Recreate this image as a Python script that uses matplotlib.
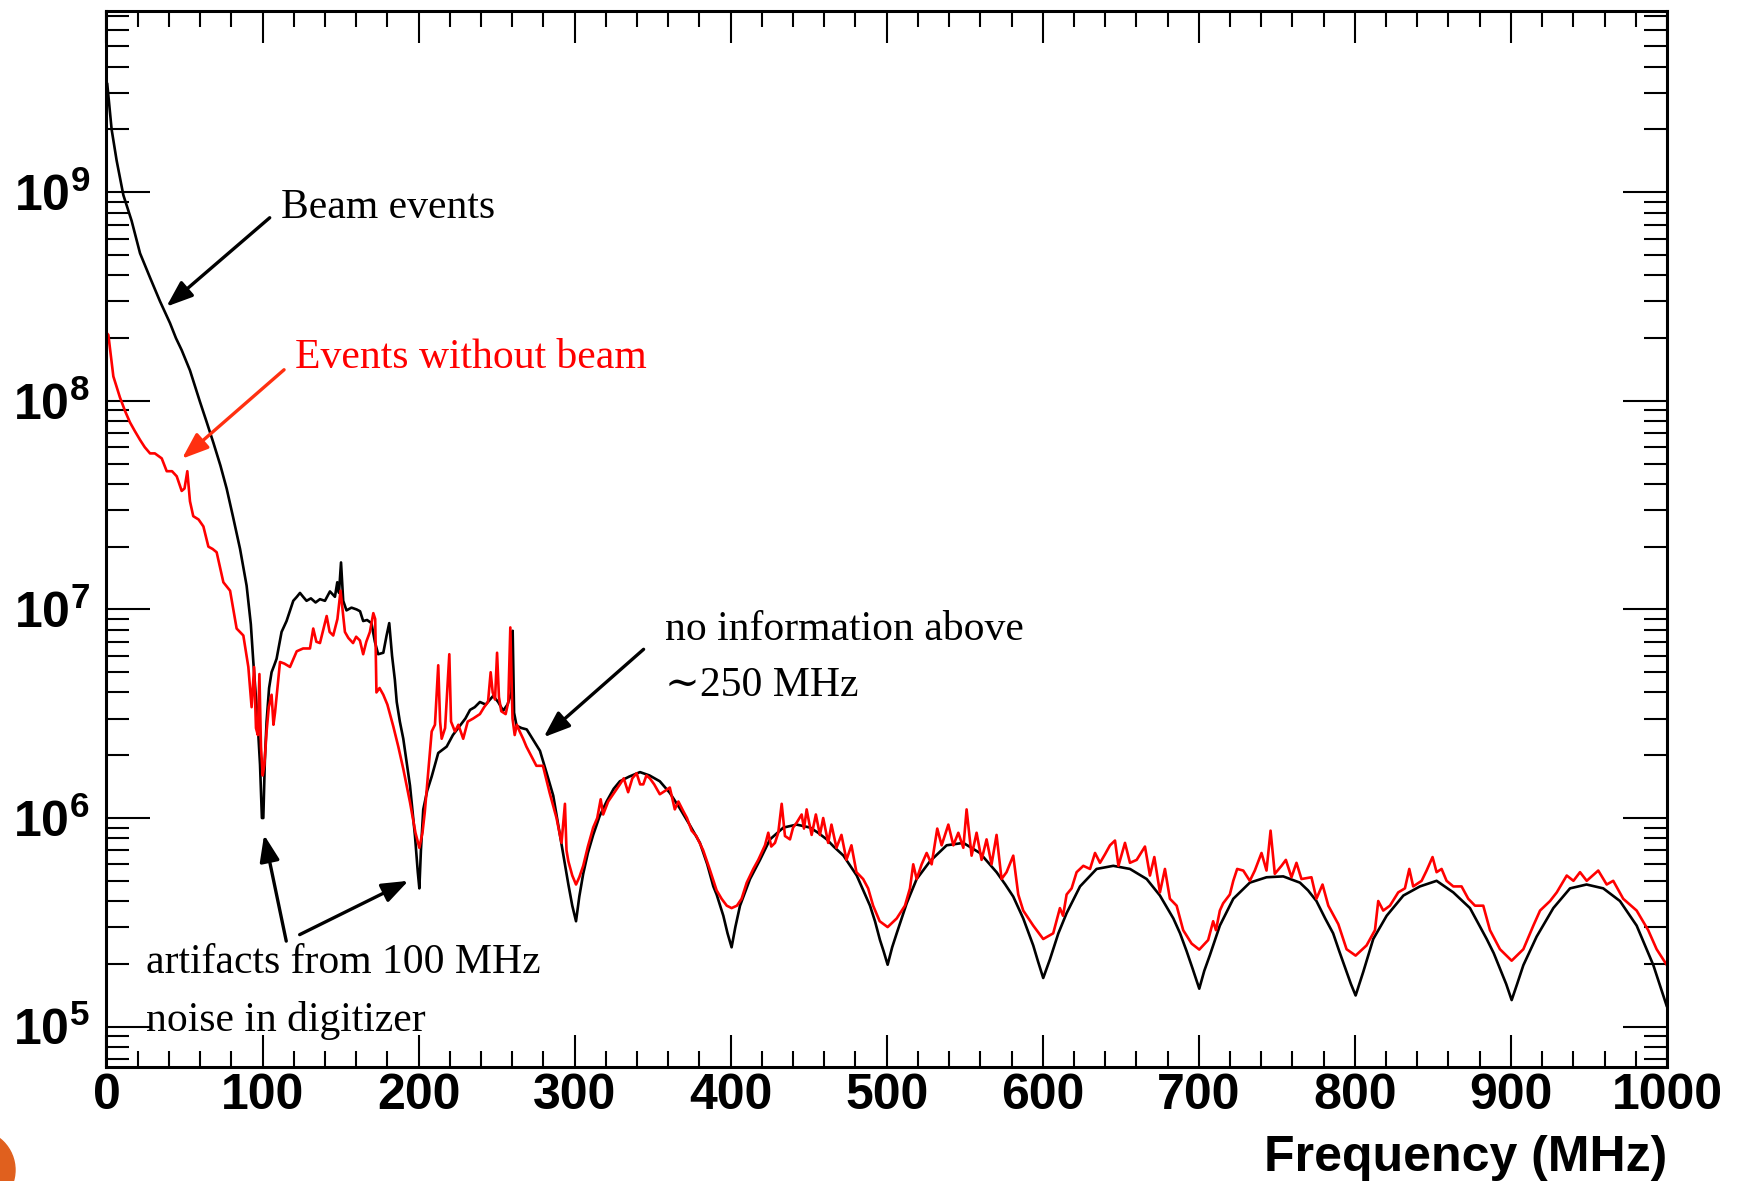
import numpy as np
import matplotlib.pyplot as plt
from matplotlib.patches import Ellipse
from matplotlib.ticker import MultipleLocator, LogLocator, NullFormatter, FuncFormatter

plt.rcParams["font.family"] = ["Liberation Sans", "DejaVu Sans"]
plt.rcParams["font.weight"] = "bold"
plt.rcParams["mathtext.fontset"] = "custom"
plt.rcParams["mathtext.rm"] = "Liberation Sans:bold"
plt.rcParams["mathtext.bf"] = "Liberation Sans:bold"
plt.rcParams["mathtext.it"] = "Liberation Sans:bold"

# (frequency MHz, counts)
beam_events = [
    (0.5, 3.3e9), (3.3, 2.0e9), (6.5, 1.42e9), (10.8, 9.7e8), (16.1, 7.3e8),
    (21.5, 5.1e8), (27.9, 3.9e8), (34.3, 3.0e8), (40.7, 2.36e8), (44.5, 2.0e8),
    (48.2, 1.75e8), (53.5, 1.4e8), (59.9, 9.9e7), (64.0, 8.0e7), (68.5, 6.3e7),
    (73.0, 4.9e7), (77.0, 3.8e7), (81.0, 2.8e7), (85.6, 1.95e7), (89.8, 1.3e7),
    (92.5, 8.5e6), (94.1, 5.6e6), (96.5, 3.2e6), (98.4, 1.8e6), (99.6, 1.0e6),
    (100.5, 1.0e6), (101.5, 1.9e6), (102.6, 2.9e6), (104.2, 4.2e6), (105.8, 5.0e6),
    (107.5, 5.4e6), (109.0, 5.8e6), (112.2, 7.8e6), (115.4, 8.8e6), (117.5, 9.8e6),
    (119.7, 1.1e7), (122.0, 1.15e7), (124.0, 1.2e7), (126.0, 1.15e7), (128.2, 1.1e7),
    (131.0, 1.13e7), (134.0, 1.08e7), (136.8, 1.12e7), (140.0, 1.1e7), (143.2, 1.22e7),
    (146.4, 1.15e7), (147.9, 1.35e7), (149.0, 1.2e7), (150.3, 1.68e7), (151.7, 1.1e7),
    (153.8, 9.9e6), (157.0, 1.02e7), (160.3, 1.0e7), (162.5, 9.8e6), (164.5, 8.8e6),
    (167.0, 8.9e6), (169.8, 8.6e6), (172.0, 7.0e6), (174.1, 6.1e6), (177.4, 6.2e6),
    (179.5, 7.5e6), (181.2, 8.6e6), (183.0, 6.0e6), (184.8, 4.6e6), (186.0, 3.6e6),
    (188.0, 2.9e6), (190.2, 2.4e6), (194.5, 1.43e6), (197.7, 8.2e5), (199.5, 5.5e5),
    (200.5, 4.6e5), (201.5, 7.0e5), (203.0, 1.1e6), (205.5, 1.35e6), (208.4, 1.58e6),
    (212.6, 2.05e6), (218.0, 2.2e6), (222.0, 2.5e6), (226.5, 2.77e6), (230.0, 3.0e6),
    (233.0, 3.3e6), (236.0, 3.4e6), (239.3, 3.6e6), (243.0, 3.5e6), (247.8, 3.85e6),
    (251.0, 3.6e6), (254.2, 3.27e6), (257.0, 3.5e6), (259.5, 4.0e6), (260.3, 7.9e6),
    (261.2, 3.2e6), (262.8, 2.77e6), (266.0, 2.7e6), (269.3, 2.66e6), (273.0, 2.4e6),
    (277.8, 2.1e6), (282.0, 1.65e6), (286.3, 1.28e6), (290.6, 8.3e5), (293.5, 6.2e5),
    (296.0, 4.8e5), (298.5, 3.8e5), (300.9, 3.2e5), (303.0, 4.2e5), (305.5, 5.4e5),
    (308.5, 6.8e5), (311.9, 8.3e5), (316.0, 1.02e6), (320.5, 1.2e6), (325.0, 1.38e6),
    (329.0, 1.5e6), (335.0, 1.58e6), (341.9, 1.66e6), (348.0, 1.6e6), (354.6, 1.5e6),
    (361.0, 1.32e6), (367.5, 1.11e6), (374.0, 9.2e5), (380.3, 7.6e5), (385.0, 6.0e5),
    (388.9, 4.7e5), (391.0, 4.3e5), (395.3, 3.4e5), (398.0, 2.8e5), (400.6, 2.4e5),
    (403.0, 3.0e5), (406.0, 3.8e5), (412.4, 5.1e5), (418.8, 6.3e5), (425.2, 7.9e5),
    (433.8, 9.0e5), (442.3, 9.3e5), (450.9, 9.0e5), (456.0, 8.5e5), (461.6, 7.9e5),
    (466.0, 7.3e5), (472.3, 6.6e5), (476.0, 6.0e5), (480.8, 5.3e5), (485.0, 4.5e5),
    (489.3, 3.8e5), (492.5, 3.2e5), (495.7, 2.6e5), (498.0, 2.3e5), (500.6, 1.98e5),
    (503.5, 2.4e5), (506.4, 2.8e5), (512.8, 3.9e5), (519.2, 5.1e5), (527.7, 6.2e5),
    (538.4, 7.4e5), (549.1, 7.6e5), (559.7, 6.8e5), (570.4, 5.5e5), (576.0, 4.8e5),
    (581.1, 4.2e5), (587.5, 3.3e5), (593.9, 2.45e5), (597.0, 2.05e5), (600.3, 1.71e5),
    (604.6, 2.1e5), (610.0, 2.8e5), (615.3, 3.5e5), (623.9, 4.7e5), (634.5, 5.7e5),
    (645.2, 5.9e5), (655.9, 5.7e5), (666.6, 5.1e5), (675.1, 4.25e5), (683.7, 3.3e5),
    (688.0, 2.8e5), (692.2, 2.3e5), (696.0, 1.9e5), (700.3, 1.52e5), (703.5, 1.85e5),
    (707.1, 2.2e5), (713.5, 3.05e5), (722.1, 4.1e5), (732.7, 4.9e5), (743.4, 5.2e5),
    (754.1, 5.25e5), (764.8, 4.9e5), (770.0, 4.5e5), (775.4, 4.0e5), (781.0, 3.3e5),
    (786.1, 2.8e5), (790.0, 2.3e5), (794.7, 1.83e5), (797.5, 1.6e5), (800.5, 1.41e5),
    (805.4, 1.83e5), (811.8, 2.63e5), (820.4, 3.4e5), (831.1, 4.25e5), (841.7, 4.7e5),
    (852.4, 5.0e5), (863.1, 4.4e5), (873.8, 3.7e5), (884.5, 2.63e5), (889.0, 2.25e5),
    (893.0, 1.9e5), (897.0, 1.6e5), (900.5, 1.34e5), (904.0, 1.6e5), (908.0, 1.97e5),
    (916.5, 2.7e5), (927.2, 3.7e5), (937.9, 4.6e5), (948.5, 4.8e5), (959.2, 4.6e5),
    (969.9, 4.0e5), (980.6, 3.05e5), (991.3, 1.97e5), (999.8, 1.26e5),
]

no_beam_events = [
    (0.5, 2.1e8), (1.2, 2.07e8), (4.4, 1.31e8), (8.6, 1.04e8), (12.0, 8.9e7),
    (15.0, 7.9e7), (18.0, 7.2e7), (21.5, 6.5e7), (24.5, 6.0e7), (27.9, 5.6e7),
    (31.0, 5.6e7), (35.4, 5.3e7), (38.6, 4.6e7), (42.0, 4.6e7), (45.0, 4.35e7),
    (48.2, 3.7e7), (50.0, 3.8e7), (51.8, 4.6e7), (53.5, 3.3e7), (55.6, 2.8e7),
    (59.0, 2.7e7), (62.1, 2.5e7), (65.3, 2.0e7), (68.0, 1.95e7), (70.6, 1.88e7),
    (74.9, 1.35e7), (79.2, 1.23e7), (83.4, 8.1e6), (87.7, 7.5e6), (90.9, 5.3e6),
    (93.0, 3.4e6), (94.6, 5.3e6), (95.8, 2.7e6), (97.0, 2.5e6), (98.0, 4.9e6),
    (99.0, 2.2e6), (100.1, 1.6e6), (101.2, 1.8e6), (102.6, 2.6e6), (104.0, 3.4e6),
    (105.8, 3.9e6), (107.0, 2.8e6), (108.0, 3.2e6), (111.2, 5.6e6), (114.0, 5.5e6),
    (117.6, 5.3e6), (121.9, 6.3e6), (126.0, 6.5e6), (130.4, 6.5e6), (132.5, 8.1e6),
    (134.5, 7.0e6), (136.8, 6.9e6), (141.1, 9.3e6), (143.0, 7.8e6), (145.3, 7.5e6),
    (148.0, 9.0e6), (150.0, 1.23e7), (152.8, 7.8e6), (155.0, 7.3e6), (158.0, 6.9e6),
    (160.0, 7.4e6), (162.4, 7.1e6), (164.5, 6.1e6), (166.5, 7.0e6), (168.8, 7.8e6),
    (171.0, 9.6e6), (172.2, 9.0e6), (173.0, 4.0e6), (175.0, 4.2e6), (177.4, 3.9e6),
    (180.0, 3.5e6), (183.8, 2.75e6), (187.0, 2.2e6), (190.2, 1.72e6), (194.5, 1.19e6),
    (198.0, 8.5e5), (200.5, 7.2e5), (202.5, 8.5e5), (204.0, 1.07e6), (206.0, 1.6e6),
    (208.4, 2.6e6), (210.5, 2.8e6), (212.6, 5.4e6), (213.8, 2.9e6), (214.8, 2.4e6),
    (217.0, 2.7e6), (219.7, 6.1e6), (220.8, 2.9e6), (223.3, 2.6e6), (225.5, 2.8e6),
    (228.6, 2.4e6), (231.5, 2.9e6), (235.0, 3.0e6), (239.3, 3.15e6), (242.0, 3.4e6),
    (244.5, 3.6e6), (246.2, 5.0e6), (247.5, 4.0e6), (249.0, 3.7e6), (250.3, 6.2e6),
    (251.5, 3.8e6), (253.0, 3.25e6), (255.8, 3.15e6), (257.5, 3.6e6), (258.8, 8.2e6),
    (260.2, 3.0e6), (261.6, 2.5e6), (263.0, 2.8e6), (264.8, 2.6e6), (267.0, 2.4e6),
    (269.1, 2.2e6), (272.0, 2.0e6), (275.5, 1.78e6), (279.7, 1.78e6), (284.0, 1.32e6),
    (288.4, 1.0e6), (291.6, 7.6e5), (293.8, 1.17e6), (294.8, 7.0e5), (296.0, 6.2e5),
    (298.5, 5.3e5), (300.9, 4.8e5), (303.0, 5.2e5), (305.5, 5.9e5), (308.5, 7.3e5),
    (311.9, 9.0e5), (314.5, 1.0e6), (316.7, 1.23e6), (318.3, 1.04e6), (321.5, 1.2e6),
    (324.7, 1.3e6), (329.0, 1.45e6), (331.5, 1.55e6), (334.3, 1.33e6), (337.0, 1.55e6),
    (339.7, 1.64e6), (342.0, 1.45e6), (344.0, 1.45e6), (346.0, 1.6e6), (348.2, 1.55e6),
    (351.0, 1.45e6), (354.6, 1.3e6), (358.0, 1.35e6), (361.0, 1.4e6), (364.2, 1.1e6),
    (366.5, 1.2e6), (369.6, 1.08e6), (372.0, 1.0e6), (375.0, 8.7e5), (378.0, 8.2e5),
    (382.4, 7.0e5), (386.5, 5.7e5), (391.0, 4.5e5), (394.2, 4.1e5), (397.5, 3.8e5),
    (400.6, 3.7e5), (404.0, 3.8e5), (407.0, 4.1e5), (410.3, 4.9e5), (414.5, 5.7e5),
    (417.7, 6.3e5), (422.0, 7.4e5), (424.1, 8.5e5), (426.0, 7.3e5), (428.4, 7.6e5),
    (430.5, 8.5e5), (432.7, 1.17e6), (434.8, 8.2e5), (438.0, 7.9e5), (440.0, 9.0e5),
    (442.3, 9.5e5), (445.5, 1.04e6), (447.0, 8.9e5), (448.7, 1.1e6), (450.3, 9.5e5),
    (451.9, 8.3e5), (454.6, 1.04e6), (457.2, 8.3e5), (459.3, 1.0e6), (462.5, 7.6e5),
    (464.6, 9.3e5), (467.8, 7.2e5), (471.0, 8.3e5), (474.2, 6.3e5), (477.4, 7.4e5),
    (480.6, 5.5e5), (484.9, 5.1e5), (488.1, 4.6e5), (491.3, 3.8e5), (495.5, 3.2e5),
    (500.6, 3.0e5), (506.4, 3.3e5), (511.7, 3.8e5), (514.9, 4.6e5), (517.0, 6.0e5),
    (519.2, 5.1e5), (522.4, 6.0e5), (525.6, 6.8e5), (528.8, 6.0e5), (532.4, 8.9e5),
    (535.2, 7.4e5), (539.5, 9.3e5), (542.7, 7.4e5), (545.9, 8.5e5), (549.1, 7.2e5),
    (551.2, 1.1e6), (554.4, 6.6e5), (557.6, 8.5e5), (560.8, 6.3e5), (564.0, 7.9e5),
    (567.2, 6.0e5), (570.4, 8.3e5), (573.6, 5.1e5), (576.8, 5.5e5), (581.1, 6.6e5),
    (584.3, 4.3e5), (587.5, 3.6e5), (593.9, 3.05e5), (600.3, 2.63e5), (606.7, 2.8e5),
    (611.0, 3.7e5), (613.0, 3.4e5), (615.3, 4.3e5), (618.5, 4.6e5), (621.7, 5.5e5),
    (626.0, 5.9e5), (630.3, 5.7e5), (633.5, 6.8e5), (636.7, 6.1e5), (639.9, 6.7e5),
    (643.1, 7.4e5), (646.3, 7.8e5), (648.5, 5.9e5), (652.7, 7.6e5), (655.9, 6.1e5),
    (660.2, 6.3e5), (665.5, 7.3e5), (668.7, 5.3e5), (671.5, 6.5e5), (675.1, 4.4e5),
    (678.3, 5.7e5), (681.5, 4.1e5), (685.8, 3.8e5), (690.0, 2.9e5), (695.4, 2.5e5),
    (700.3, 2.34e5), (706.0, 2.6e5), (709.2, 3.2e5), (711.0, 2.9e5), (713.5, 3.6e5),
    (715.6, 3.9e5), (719.9, 4.3e5), (722.1, 5.0e5), (724.6, 5.7e5), (728.5, 5.6e5),
    (732.7, 5.0e5), (735.9, 5.6e5), (740.2, 6.8e5), (743.4, 5.6e5), (746.0, 8.7e5),
    (748.7, 5.4e5), (753.0, 5.9e5), (755.8, 6.3e5), (759.4, 5.2e5), (762.6, 6.1e5),
    (765.8, 5.1e5), (772.2, 5.2e5), (775.4, 4.1e5), (779.3, 4.8e5), (783.0, 3.8e5),
    (789.4, 3.1e5), (794.7, 2.35e5), (800.5, 2.19e5), (807.5, 2.45e5), (812.9, 2.9e5),
    (815.0, 4.0e5), (818.2, 3.6e5), (822.5, 3.8e5), (827.8, 4.4e5), (832.1, 4.6e5),
    (834.9, 5.7e5), (837.4, 4.7e5), (842.8, 5.0e5), (846.0, 5.6e5), (849.8, 6.5e5),
    (852.4, 5.5e5), (855.6, 5.7e5), (858.8, 5.0e5), (863.1, 4.7e5), (868.4, 4.7e5),
    (872.7, 4.1e5), (877.0, 3.8e5), (882.3, 3.8e5), (886.6, 2.9e5), (893.0, 2.35e5),
    (900.5, 2.07e5), (908.0, 2.35e5), (914.4, 3.05e5), (918.7, 3.6e5), (925.1, 4.0e5),
    (929.4, 4.4e5), (935.8, 5.3e5), (940.1, 5.0e5), (944.3, 5.5e5), (948.6, 5.0e5),
    (956.0, 5.6e5), (961.4, 4.8e5), (965.6, 5.0e5), (972.0, 4.1e5), (980.6, 3.6e5),
    (988.0, 2.9e5), (993.4, 2.35e5), (999.8, 1.98e5),
]

beam_f, beam_c = np.array(beam_events).T
nobeam_f, nobeam_c = np.array(no_beam_events).T

fig = plt.figure(figsize=(17.4, 11.81), dpi=100)
ax = fig.add_axes([0.0612, 0.0965, 0.8968, 0.8942])

ax.plot(beam_f, beam_c, color="black", lw=1.9)
ax.plot(nobeam_f, nobeam_c, color="red", lw=1.9)

ax.set_yscale("log")
ax.set_xlim(0, 1000)
ax.set_ylim(6.4e4, 7.4e9)

ax.xaxis.set_major_locator(MultipleLocator(100))
ax.xaxis.set_minor_locator(MultipleLocator(20))
ax.yaxis.set_major_locator(LogLocator(base=10, numticks=12))
ax.yaxis.set_minor_locator(LogLocator(base=10, subs=np.arange(2, 10), numticks=12))
ax.yaxis.set_minor_formatter(NullFormatter())
ax.yaxis.set_major_formatter(
    FuncFormatter(lambda v, p: r"$\mathbf{10^{%d}}$" % round(np.log10(v)))
)

ax.tick_params(which="both", direction="in", top=True, right=True,
               width=1.5, labelsize=36)
ax.tick_params(axis="x", which="major", length=23, pad=4)
ax.tick_params(axis="x", which="minor", length=11.5)
ax.tick_params(axis="y", which="major", length=32, pad=12)
ax.tick_params(axis="y", which="minor", length=16.5)
for s in ax.spines.values():
    s.set_linewidth(2.2)

fig.text(0.958, 0.0085, "Frequency (MHz)", ha="right", va="baseline",
         fontsize=36, fontweight="bold")

serif = ["Liberation Serif", "DejaVu Serif"]
note = dict(fontsize=30, family=serif, fontweight="normal", va="baseline")
ax.text(111.7, 7.55e8, "Beam events", color="black", **note)
ax.text(120.9, 1.43e8, "Events without beam", color="red", **note)
ax.text(357.8, 7.1e6, "no information above", color="black", **note)
ax.text(357.8, 3.85e6, "\u223c250 MHz", color="black", **note)
ax.text(25.6, 1.8e5, "artifacts from 100 MHz", color="black", **note)
ax.text(25.6, 9.5e4, "noise in digitizer", color="black", **note)


def arrow(tail, head, color="black"):
    ax.annotate("", xy=head, xytext=tail,
                arrowprops=dict(arrowstyle="-|>,head_length=0.8,head_width=0.3",
                                lw=2.4, color=color, shrinkA=0, shrinkB=0,
                                mutation_scale=20))


arrow((104.6, 7.55e8), (38.4, 2.83e8))
arrow((113.8, 1.41e8), (48.4, 5.28e7), color="#ff3010")
arrow((344.2, 6.44e6), (280.2, 2.44e6))
arrow((115.2, 2.57e5), (101.0, 8.3e5))
arrow((123.8, 2.76e5), (193.5, 5.0e5))

# slide decoration in the lower-left corner
fig.add_artist(Ellipse((-25 / 1740, 1 - 1170 / 1181), 80 / 1740, 80 / 1181,
                       transform=fig.transFigure, color="#e0601e", clip_on=False))

fig.savefig("out.png", dpi=100)
